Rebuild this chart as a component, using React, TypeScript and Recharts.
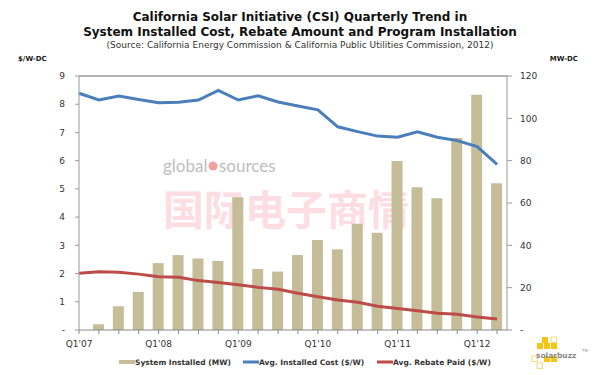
import React from "react";
import { ComposedChart, Bar, Line, XAxis, YAxis, ReferenceLine } from "recharts";

const quarters = [
  "Q1'07", "Q2'07", "Q3'07", "Q4'07",
  "Q1'08", "Q2'08", "Q3'08", "Q4'08",
  "Q1'09", "Q2'09", "Q3'09", "Q4'09",
  "Q1'10", "Q2'10", "Q3'10", "Q4'10",
  "Q1'11", "Q2'11", "Q3'11", "Q4'11",
  "Q1'12", "Q2'12",
];
const installedMW = [0, 2.7, 11.2, 18, 31.6, 35.4, 33.8, 32.6, 62.7, 28.8, 27.6, 35.4, 42.5, 38.1, 50.2, 46, 79.8, 67.5, 62.2, 90.7, 111.2, 69.3];
const installedCost = [8.39, 8.15, 8.29, 8.17, 8.05, 8.07, 8.15, 8.49, 8.15, 8.3, 8.08, 7.94, 7.8, 7.2, 7.03, 6.87, 6.83, 7.02, 6.83, 6.71, 6.5, 5.87];
const rebatePaid = [2.01, 2.06, 2.05, 1.98, 1.89, 1.87, 1.75, 1.68, 1.6, 1.51, 1.44, 1.3, 1.18, 1.06, 0.98, 0.84, 0.76, 0.68, 0.59, 0.56, 0.46, 0.39];
const leftTicks = [0, 1, 2, 3, 4, 5, 6, 7, 8, 9];
const rightTicks = [0, 20, 40, 60, 80, 100, 120];

const BAR = "#C4BD97";
const BLUE = "#4A7EBB";
const RED = "#BE4B48";
const FONT = "DejaVu Sans";

const data = quarters.map((q, i) => ({
  idx: i,
  quarter: q,
  mw: installedMW[i],
  cost: installedCost[i],
  rebate: rebatePaid[i],
}));

const tickStyle = { fill: "#333", fontSize: 9, fontFamily: FONT };

const LegendItem = ({ x, color, width, label }: { x: number; color: string; width: number; label: string }) => (
  <g>
    <line x1={x} x2={x + 16} y1={362} y2={362} stroke={color} strokeWidth={width} />
    <text x={x + 16} y={364.5} fontSize={7.5} fontWeight="bold" fontFamily={FONT} fill="#333">
      {label}
    </text>
  </g>
);

// solarbuzz mark in the bottom-right corner
const Logo = () => {
  const filled: [number, number][] = [[542, 337], [537, 343], [544, 343], [551, 343], [544, 356], [551, 356]];
  const empty: [number, number][] = [[551, 337], [532, 356], [537, 363]];
  return (
    <g>
      {filled.map(([x, y], i) => (
        <rect key={"f" + i} x={x} y={y} width={6} height={6} fill="#F6C412" />
      ))}
      {empty.map(([x, y], i) => (
        <rect key={"e" + i} x={x} y={y} width={5.5} height={5.5} fill="none" stroke="#F6DA7A" strokeWidth={1} />
      ))}
      <text x={536} y={358} fontSize={7.5} fontWeight="bold" fontFamily={FONT} fill="#8a8a8a">
        solarbuzz
      </text>
      <text x={582} y={352} fontSize={4} fontFamily={FONT} fill="#999">
        TM
      </text>
    </g>
  );
};

export default function App() {
  return (
    <div style={{ position: "absolute", left: 0, top: 0, width: 600, height: 375, background: "#fff", overflow: "hidden" }}>
      <svg width={600} height={375} style={{ position: "absolute", left: 0, top: 0 }}>
        <text x={163} y={172} fontSize={17} fontFamily="Lato" fill="#bdbdbd">global</text>
        <circle cx={213} cy={166} r={4.5} fill="#f2a0a0" />
        <text x={219} y={172} fontSize={17} fontFamily="Lato" fill="#bdbdbd">sources</text>
        <text x={163} y={225} fontSize={41} fontWeight="bold" fontFamily="Noto Sans CJK SC" fill="#fddde1">国际电子商情</text>
      </svg>
      <div style={{ position: "absolute", left: 0, top: 0 }}>
        <ComposedChart width={600} height={375} data={data} margin={{ top: 76, right: 0, bottom: 15, left: 0 }}>
          <XAxis
            dataKey="idx"
            type="number"
            domain={[0, 21.5]}
            ticks={quarters.map((_, i) => i)}
            interval={0}
            tickFormatter={(v: number) => (v % 4 === 0 ? quarters[v] : "")}
            tick={tickStyle}
            tickSize={4}
            tickMargin={7}
            stroke="#888"
            height={30}
          />
          <YAxis
            yAxisId="left"
            orientation="left"
            domain={[0, 9]}
            ticks={leftTicks}
            interval={0}
            width={79}
            tickSize={4}
            tickMargin={10}
            tick={tickStyle}
            stroke="#999"
            tickFormatter={(v: number) => (v === 0 ? "-" : String(v))}
          />
          <YAxis
            yAxisId="right"
            orientation="right"
            domain={[0, 120]}
            ticks={rightTicks}
            interval={0}
            width={93}
            tickSize={5}
            tickMargin={8}
            tick={tickStyle}
            stroke="#999"
            tickFormatter={(v: number) => (v === 0 ? "-" : String(v))}
          />
          <ReferenceLine yAxisId="left" y={9} stroke="#666" strokeWidth={1} />
          <Bar yAxisId="right" dataKey="mw" fill={BAR} barSize={11} isAnimationActive={false} />
          <Line yAxisId="left" dataKey="cost" stroke={BLUE} strokeWidth={3} dot={false} type="linear" isAnimationActive={false} />
          <Line yAxisId="left" dataKey="rebate" stroke={RED} strokeWidth={3} dot={false} type="linear" isAnimationActive={false} />
        </ComposedChart>
      </div>
      <svg width={600} height={375} style={{ position: "absolute", left: 0, top: 0, pointerEvents: "none" }}>
        <text x={300} y={20.5} textAnchor="middle" fontSize={12} fontWeight="bold" fontFamily={FONT} fill="#111">
          California Solar Initiative (CSI) Quarterly Trend in
        </text>
        <text x={300} y={35.5} textAnchor="middle" fontSize={12} fontWeight="bold" fontFamily={FONT} fill="#111">
          System Installed Cost, Rebate Amount and Program Installation
        </text>
        <text x={300} y={47.5} textAnchor="middle" fontSize={9} fontFamily={FONT} fill="#333">
          (Source: California Energy Commission &amp; California Public Utilities Commission, 2012)
        </text>
        <text x={18} y={60.5} fontSize={7} fontWeight="bold" fontFamily={FONT} fill="#222">$/W-DC</text>
        <text x={578} y={60.5} textAnchor="end" fontSize={7} fontWeight="bold" fontFamily={FONT} fill="#222">MW-DC</text>
        <LegendItem x={119} color={BAR} width={4} label="System Installed (MW)" />
        <LegendItem x={243} color={BLUE} width={3} label="Avg. Installed Cost ($/W)" />
        <LegendItem x={377} color={RED} width={3} label="Avg. Rebate Paid ($/W)" />
        <Logo />
      </svg>
    </div>
  );
}
